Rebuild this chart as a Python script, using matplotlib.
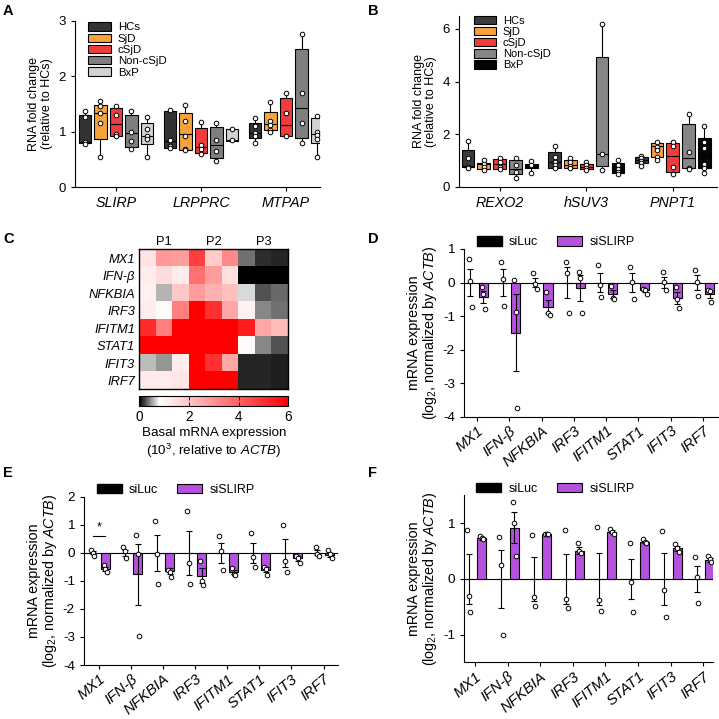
import matplotlib
matplotlib.use('Agg')
import matplotlib.pyplot as plt
import numpy as np
from matplotlib.colors import LinearSegmentedColormap
from matplotlib.patches import Patch

plt.rcParams['font.family'] = ['Liberation Sans', 'DejaVu Sans']
plt.rcParams['mathtext.fontset'] = 'custom'
plt.rcParams['mathtext.rm'] = 'Liberation Sans'
plt.rcParams['mathtext.it'] = 'Liberation Sans:italic'
plt.rcParams['mathtext.bf'] = 'Liberation Sans:bold'
plt.rcParams['axes.linewidth'] = 0.8
plt.rcParams['axes.unicode_minus'] = False

# ---------------- Panel A data ----------------
groups = ['HCs', 'SjD', 'cSjD', 'Non-cSjD', 'BxP']
genes_a = ['SLIRP', 'LRPPRC', 'MTPAP']
a_lo = [[0.77, 0.55, 0.92, 0.68, 0.54],
        [0.70, 0.66, 0.59, 0.47, 0.84],
        [0.80, 0.99, 0.92, 0.80, 0.55]]
a_q1 = [[0.80, 0.86, 0.92, 0.73, 0.78],
        [0.71, 0.67, 0.62, 0.52, 0.84],
        [0.88, 1.03, 0.92, 0.89, 0.795]]
a_med = [[0.82, 1.33, 1.13, 0.97, 0.93],
         [0.83, 0.95, 0.72, 0.76, 0.855],
         [0.975, 1.14, 1.12, 1.42, 0.96]]
a_q3 = [[1.30, 1.49, 1.42, 1.30, 1.15],
        [1.37, 1.33, 1.06, 1.08, 1.04],
        [1.16, 1.35, 1.60, 2.49, 1.25]]
a_hi = [[1.38, 1.55, 1.47, 1.38, 1.26],
        [1.39, 1.48, 1.17, 1.16, 1.04],
        [1.24, 1.54, 1.70, 2.76, 1.29]]
a_pts = [[[1.38, 1.26, 0.82, 0.78], [1.55, 1.47, 1.33, 1.16, 0.55], [1.47, 1.30, 0.95, 0.92],
          [1.38, 1.00, 0.83, 0.68], [1.26, 1.05, 0.93, 0.86, 0.54]],
         [[1.39, 0.85, 0.75, 0.70], [1.48, 1.20, 0.93, 0.69, 0.66], [1.17, 0.76, 0.68, 0.60],
          [1.16, 0.85, 0.65, 0.47], [1.04, 0.85]],
         [[1.24, 1.10, 0.98, 0.92, 0.80], [1.54, 1.19, 1.12, 1.03, 0.99], [1.70, 1.33, 0.92],
          [2.76, 1.69, 1.16, 0.80], [1.29, 1.00, 0.94, 0.87, 0.55]]]
colors_a = ['#333333', '#f7a23b', '#f03c3c', '#7f7f7f', '#d2d2d2']

# ---------------- Panel B data ----------------
genes_b = ['REXO2', 'hSUV3', 'PNPT1']
b_lo = [[0.72, 0.63, 0.66, 0.34, 0.51],
        [0.72, 0.72, 0.63, 0.63, 0.47],
        [0.80, 1.01, 0.47, 0.67, 0.53]]
b_q1 = [[0.74, 0.67, 0.67, 0.47, 0.70],
        [0.72, 0.72, 0.67, 0.80, 0.53],
        [0.91, 1.14, 0.57, 0.72, 0.70]]
b_med = [[0.78, 0.86, 0.86, 0.66, 0.80],
         [0.95, 0.82, 0.76, 1.24, 0.67],
         [1.01, 1.55, 1.17, 1.08, 1.20]]
b_q3 = [[1.39, 0.92, 1.04, 1.00, 0.86],
        [1.31, 1.00, 0.86, 4.92, 0.92],
        [1.12, 1.65, 1.65, 2.38, 1.84]]
b_hi = [[1.75, 1.00, 1.10, 1.08, 0.98],
        [1.55, 1.10, 0.95, 6.18, 1.00],
        [1.18, 1.71, 1.71, 2.76, 2.31]]
b_pts = [[[1.75, 1.08, 0.76, 0.72], [1.00, 0.86, 0.75, 0.63], [1.10, 0.95, 0.76, 0.66],
          [1.08, 0.82, 0.57, 0.34], [0.98, 0.82, 0.51]],
         [[1.55, 1.14, 0.95, 0.82, 0.72], [1.10, 0.95, 0.80, 0.72], [0.95, 0.82, 0.72, 0.63],
          [6.18, 1.24, 0.63], [1.00, 0.82, 0.67, 0.57, 0.47]],
         [[1.18, 1.08, 0.98, 0.89, 0.80], [1.71, 1.52, 1.39, 1.14, 1.01], [1.71, 1.55, 0.76, 0.47],
          [2.76, 1.33, 0.72, 0.67], [2.31, 1.69, 1.46, 0.86, 0.70, 0.53]]]
colors_b = ['#3a3a3a', '#f7a23b', '#f03c3c', '#868686', '#050505']

# ---------------- Panel C data ----------------
heat_rows = ['MX1', 'IFN-β', 'NFKBIA', 'IRF3', 'IFITM1', 'STAT1', 'IFIT3', 'IRF7']
heat_cols = ['P1', 'P2', 'P3']
heat_vals = [[1.4, 2.9, 2.8, 4.7, 1.85, 3.2, 0.37, 0.16, 0.13],
             [1.15, 1.5, 1.2, 3.7, 2.8, 1.45, 0.0, 0.0, 0.0],
             [1.1, 0.58, 1.9, 2.8, 2.4, 2.1, 0.70, 0.27, 0.33],
             [1.15, 0.9, 3.4, 6.0, 5.0, 2.6, 1.1, 0.43, 0.37],
             [5.1, 3.4, 6.0, 6.0, 6.0, 6.0, 5.4, 2.6, 2.2],
             [6.0, 6.0, 6.0, 6.0, 6.0, 6.0, 0.9, 0.43, 0.27],
             [0.6, 0.48, 1.15, 6.0, 5.0, 2.6, 0.13, 0.12, 0.10],
             [1.2, 1.2, 1.3, 6.0, 6.0, 6.0, 0.13, 0.12, 0.10]]
cbar_ticks = [0, 2, 4, 6]

# ---------------- Panels D, E, F data ----------------
genes_bar = ['MX1', 'IFN-β', 'NFKBIA', 'IRF3', 'IFITM1', 'STAT1', 'IFIT3', 'IRF7']

d_luc_mean = [0, 0, 0, 0, 0, 0, 0, 0]
d_luc_err = [0.41, 0.39, 0.14, 0.46, 0.27, 0.27, 0.15, 0.22]
d_luc_pts = [[0.70, 0.05, -0.73], [0.62, 0.10, -0.70], [0.28, -0.03, -0.20], [0.62, 0.28, -0.90],
             [0.52, -0.08, -0.42], [0.46, 0.03, -0.48], [0.30, 0.02, -0.22], [0.38, 0.02, -0.40]]
d_sl_mean = [-0.42, -1.50, -0.72, -0.16, -0.35, -0.23, -0.45, -0.35]
d_sl_err = [0.18, 1.15, 0.20, 0.38, 0.12, 0.05, 0.18, 0.10]
d_sl_pts = [[-0.14, -0.33, -0.78], [0.07, -0.87, -3.75], [-0.28, -0.90, -0.98], [0.30, 0.14, -0.92],
            [-0.10, -0.45, -0.50], [-0.19, -0.23, -0.33], [-0.14, -0.48, -0.76], [-0.22, -0.25, -0.58]]

e_luc_mean = [0, 0, 0, 0, 0, 0, 0, 0]
e_luc_err = [0.05, 0.10, 0.65, 0.78, 0.35, 0.36, 0.50, 0.09]
e_luc_pts = [[0.10, 0.0, -0.10], [0.22, 0.05, -0.20], [1.13, -0.03, -1.10], [1.50, -0.38, -1.13],
             [0.60, 0.05, -0.62], [0.70, -0.15, -0.52], [1.00, -0.30, -0.67], [0.20, -0.05, -0.10]]
e_sl_mean = [-0.58, -0.77, -0.65, -0.82, -0.70, -0.60, -0.20, -0.08]
e_sl_err = [0.07, 1.09, 0.10, 0.27, 0.07, 0.08, 0.08, 0.08]
e_sl_pts = [[-0.45, -0.58, -0.68], [0.62, -0.05, -2.95], [-0.60, -0.68, -0.85], [-0.30, -1.02, -1.15],
            [-0.55, -0.75, -0.78], [-0.50, -0.57, -0.78], [-0.12, -0.17, -0.35], [0.10, -0.05, -0.18]]

f_luc_mean = [0, 0, 0, 0, 0, 0, 0, 0]
f_luc_err = [0.45, 0.52, 0.40, 0.45, 0.47, 0.36, 0.46, 0.24]
f_luc_pts = [[0.88, -0.30, -0.59], [0.75, 0.25, -1.00], [0.79, -0.32, -0.48], [0.88, -0.36, -0.52],
             [0.94, -0.37, -0.58], [0.65, -0.05, -0.60], [0.87, -0.19, -0.68], [0.39, 0.03, -0.43]]
f_sl_mean = [0.73, 0.92, 0.80, 0.51, 0.85, 0.66, 0.55, 0.34]
f_sl_err = [0.03, 0.28, 0.01, 0.07, 0.03, 0.02, 0.05, 0.03]
f_sl_pts = [[0.78, 0.74, 0.72], [1.38, 1.00, 0.42], [0.80, 0.80, 0.80], [0.64, 0.50, 0.46],
            [0.89, 0.85, 0.80], [0.71, 0.67, 0.65], [0.62, 0.56, 0.48], [0.42, 0.36, 0.31]]

purple = '#b552dd'

# ======================================================
fig = plt.figure(figsize=(7.19, 7.19), dpi=100)


def box_panel(ax, genes, colors, lo, q1, med, q3, hi, pts):
    offsets = [-0.365, -0.183, 0.0, 0.183, 0.365]
    for gi in range(len(genes)):
        stats = []
        pos = []
        for k in range(len(groups)):
            stats.append(dict(whislo=lo[gi][k], q1=q1[gi][k], med=med[gi][k],
                              q3=q3[gi][k], whishi=hi[gi][k], label=''))
            pos.append(gi + offsets[k])
        b = ax.bxp(stats, positions=pos, widths=0.147, patch_artist=True,
                   showfliers=False, showcaps=False, manage_ticks=False,
                   boxprops=dict(edgecolor='black', linewidth=0.8),
                   medianprops=dict(color='black', linewidth=0.8),
                   whiskerprops=dict(color='black', linewidth=0.8))
        for patch, c in zip(b['boxes'], colors):
            patch.set_facecolor(c)
        for k in range(len(groups)):
            p = pts[gi][k]
            ax.plot([pos[k]] * len(p), p, 'o', ms=3.3, mfc='white', mec='black',
                    mew=0.7, zorder=5, clip_on=False)
    ax.set_xticks(range(len(genes)))
    ax.set_xticklabels(genes, fontstyle='italic', fontsize=10.3)
    ax.spines['top'].set_visible(False)
    ax.spines['right'].set_visible(False)
    ax.tick_params(axis='both', direction='out', length=3, width=0.8, labelsize=9.5)
    ax.tick_params(axis='x', labelsize=10.3)
    ax.set_ylabel('RNA fold change\n(relative to HCs)', fontsize=9.0, linespacing=1.05)
    handles = [Patch(facecolor=c, edgecolor='black', linewidth=0.8) for c in colors]
    return handles


# ---- Panel A ----
axA = fig.add_axes([0.1043, 0.7399, 0.3408, 0.2309])
hA = box_panel(axA, genes_a, colors_a, a_lo, a_q1, a_med, a_q3, a_hi, a_pts)
axA.set_xlim(-0.48, 2.40)
axA.set_ylim(0, 3)
axA.set_yticks([0, 1, 2, 3])
axA.legend(hA, groups, loc='upper left', bbox_to_anchor=(0.035, 1.02), frameon=False,
           fontsize=8.2, handlelength=2.0, handleheight=0.75, labelspacing=0.1,
           handletextpad=0.6, borderaxespad=0)

# ---- Panel B ----
axB = fig.add_axes([0.6384, 0.7403, 0.3588, 0.2377])
hB = box_panel(axB, genes_b, colors_b, b_lo, b_q1, b_med, b_q3, b_hi, b_pts)
axB.set_xlim(-0.47, 2.51)
axB.set_ylim(0, 6.5)
axB.set_yticks([0, 2, 4, 6])
axB.legend(hB, groups, loc='upper left', bbox_to_anchor=(0.04, 1.025), frameon=False,
           fontsize=8.0, handlelength=2.0, handleheight=0.75, labelspacing=0.1,
           handletextpad=0.6, borderaxespad=0)

# ---- Panel C ----
axC = fig.add_axes([0.1937, 0.4586, 0.2072, 0.1947])
cmap = LinearSegmentedColormap.from_list('kwr', [(0, 'black'), (0.8 / 6, 'white'), (1, 'red')])
im = axC.imshow(np.array(heat_vals), cmap=cmap, vmin=0, vmax=6, aspect='auto',
                interpolation='nearest')
axC.set_yticks(range(len(heat_rows)))
axC.set_yticklabels(heat_rows, fontstyle='italic', fontsize=9.3)
axC.set_xticks([])
axC.tick_params(axis='y', length=0, pad=3)
for i, lab in enumerate(heat_cols):
    axC.text(1 + 3 * i, -0.6, lab, ha='center', va='bottom', fontsize=9.3)
for s in axC.spines.values():
    s.set_linewidth(1.0)

caxC = fig.add_axes([0.1937, 0.4357, 0.2072, 0.0139])
cb = fig.colorbar(im, cax=caxC, orientation='horizontal')
cb.set_ticks(cbar_ticks)
cb.outline.set_linewidth(0.8)
caxC.tick_params(axis='x', direction='in', length=3, width=0.6, top=True, bottom=True,
                 labelsize=9.8, pad=3)
caxC.set_xlabel('Basal mRNA expression\n(10$^3$, relative to $\\mathit{ACTB}$)',
                fontsize=9.6, linespacing=1.25, labelpad=2)


# ---- Bar panels ----
def bar_panel(ax, luc_m, luc_e, luc_p, sl_m, sl_e, sl_p):
    x = np.arange(len(genes_bar))
    xl = x - 0.2
    xs = x + 0.2
    ax.axhline(0, color='black', lw=0.8, zorder=1)
    ax.bar(xl, luc_m, width=0.28, color='black', edgecolor='black', lw=0.8, zorder=2)
    ax.bar(xs, sl_m, width=0.28, color=purple, edgecolor='black', lw=0.8, zorder=2)
    ax.errorbar(xl, luc_m, yerr=luc_e, fmt='none', ecolor='black', elinewidth=0.8,
                capsize=2.2, capthick=0.8, zorder=3)
    ax.errorbar(xs, sl_m, yerr=sl_e, fmt='none', ecolor='black', elinewidth=0.8,
                capsize=2.2, capthick=0.8, zorder=3)
    jit = [-0.05, 0.0, 0.05]
    for i in range(len(genes_bar)):
        ax.plot(xl[i] + np.array(jit[:len(luc_p[i])]), luc_p[i], 'o', ms=3.3, mfc='white',
                mec='black', mew=0.7, zorder=4)
        ax.plot(xs[i] + np.array(jit[:len(sl_p[i])]), sl_p[i], 'o', ms=3.3, mfc='white',
                mec='black', mew=0.7, zorder=4)
    ax.set_xticks(x)
    ax.set_xticklabels(genes_bar, fontstyle='italic', rotation=40, ha='right',
                       rotation_mode='anchor', fontsize=10.8)
    ax.spines['top'].set_visible(False)
    ax.spines['right'].set_visible(False)
    ax.tick_params(axis='y', direction='out', length=3, width=0.8, labelsize=9.7)
    ax.tick_params(axis='x', direction='out', length=3, width=0.8, pad=2)
    ax.set_ylabel('mRNA expression\n(log$_2$, normalized by $\\mathit{ACTB}$)', fontsize=10.3,
                  linespacing=1.0, labelpad=3)
    handles = [Patch(facecolor='black', edgecolor='black'),
               Patch(facecolor=purple, edgecolor='black', linewidth=0.8)]
    ax.legend(handles, ['siLuc', 'siSLIRP'], ncol=2, loc='center left',
              bbox_to_anchor=(0.03, 1.04), frameon=False, fontsize=9.0,
              handlelength=2.0, handleheight=0.75, columnspacing=1.5, handletextpad=0.6,
              borderaxespad=0)


axD = fig.add_axes([0.6453, 0.4205, 0.3533, 0.2332])
bar_panel(axD, d_luc_mean, d_luc_err, d_luc_pts, d_sl_mean, d_sl_err, d_sl_pts)
axD.set_xlim(-0.40, 7.46)
axD.set_ylim(-4, 1)
axD.set_yticks([-4, -3, -2, -1, 0, 1])

axE = fig.add_axes([0.1168, 0.0751, 0.3533, 0.2341])
bar_panel(axE, e_luc_mean, e_luc_err, e_luc_pts, e_sl_mean, e_sl_err, e_sl_pts)
axE.set_xlim(-0.47, 7.45)
axE.set_ylim(-4, 2)
axE.set_yticks([-4, -3, -2, -1, 0, 1, 2])
axE.plot([-0.2, 0.2], [0.6, 0.6], color='black', lw=0.8)
axE.text(0.0, 0.68, '*', ha='center', va='bottom', fontsize=9)

axF = fig.add_axes([0.6453, 0.0786, 0.3463, 0.2323])
bar_panel(axF, f_luc_mean, f_luc_err, f_luc_pts, f_sl_mean, f_sl_err, f_sl_pts)
axF.set_xlim(-0.34, 7.30)
axF.set_ylim(-1.5, 1.5)
axF.set_yticks([-1, 0, 1])

# ---- Panel letters ----
for lab, (px, py) in {'A': (3, 4), 'B': (368, 4), 'C': (3, 232), 'D': (368, 232),
                      'E': (3, 466), 'F': (368, 466)}.items():
    fig.text(px / 719, 1 - py / 719, lab, fontsize=10.5, fontweight='bold', va='top', ha='left')

fig.savefig('out.png', dpi=100)
